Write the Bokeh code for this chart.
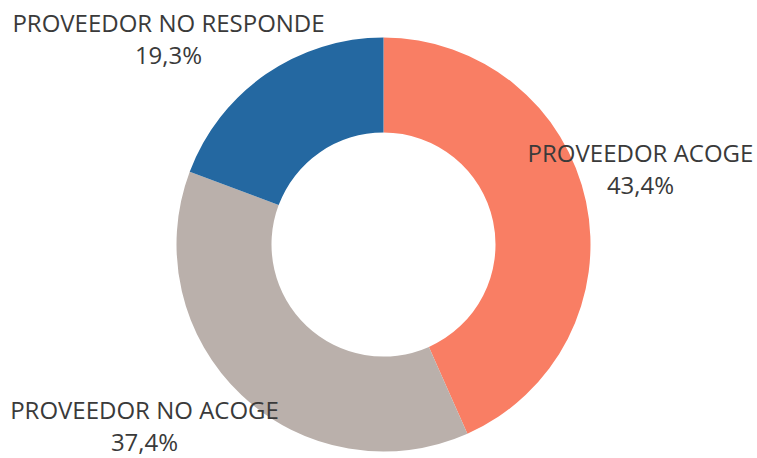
import math
from bokeh.plotting import figure
from bokeh.models import Range1d, ColumnDataSource
from bokeh.core.properties import value
from bokeh.embed import file_html
from bokeh.resources import INLINE

categories = ["PROVEEDOR ACOGE", "PROVEEDOR NO ACOGE", "PROVEEDOR NO RESPONDE"]
shares = [43.4, 37.4, 19.3]
pct_labels = ["43,4%", "37,4%", "19,3%"]
colors = ["#F97E64", "#BAB0AB", "#2468A1"]

W, H = 757, 458
cx, cy = 383, H - 244
r_out, r_in = 207, 112

total = sum(shares)
starts, ends = [], []
acc = 0.0
for s in shares:
    a0 = math.pi / 2 - 2 * math.pi * acc / total
    acc += s
    a1 = math.pi / 2 - 2 * math.pi * acc / total
    starts.append(a0)
    ends.append(a1)

src = ColumnDataSource(dict(start=starts, end=ends, color=colors))

p = figure(width=W, height=H, output_backend="svg", toolbar_location=None,
           x_range=Range1d(0, W), y_range=Range1d(0, H), min_border=0)
p.axis.visible = False
p.grid.visible = False
p.outline_line_color = None
p.background_fill_color = "white"

p.annular_wedge(x=cx, y=cy, inner_radius=r_in, outer_radius=r_out,
                start_angle="start", end_angle="end", direction="clock",
                fill_color="color", line_color=None, source=src)

# label anchor positions (layout): centre x, baseline of first line (pixels from top)
label_pos = [(640, 152), (144, 409), (168, 22)]
lx = [pt[0] for pt in label_pos]
ly1 = [H - pt[1] for pt in label_pos]
ly2 = [H - pt[1] - 32 for pt in label_pos]

common = dict(text_align="center", text_baseline="alphabetic",
              text_font=value("Open Sans"), text_font_size="24px",
              text_color="#3a3a3a")
p.text(x=lx, y=ly1, text=categories, **common)
p.text(x=lx, y=ly2, text=pct_labels, **common)

open("out.html", "w").write(file_html(p, INLINE))
